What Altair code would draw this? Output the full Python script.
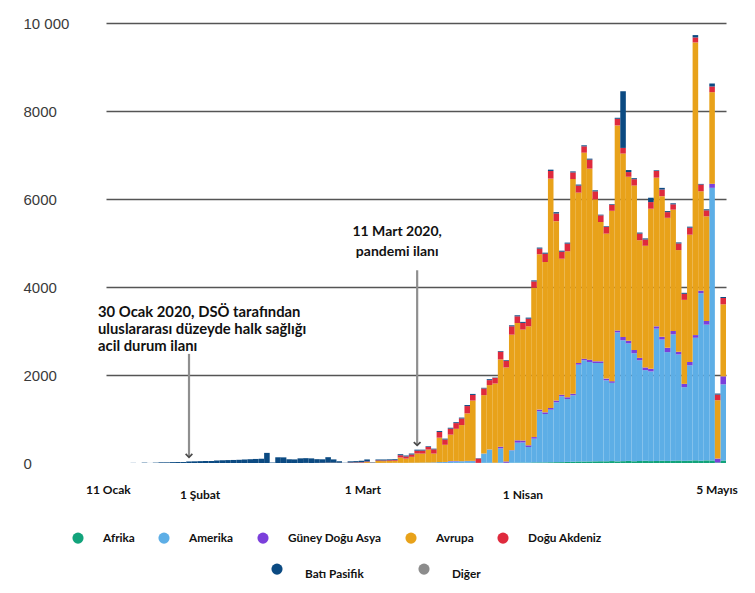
import altair as alt
import pandas as pd

# ---------------- data (daily deaths by WHO region, 15 Jan - 5 May 2020) -------------
regions = ["Afrika", "Amerika", "Güney Doğu Asya", "Avrupa", "Doğu Akdeniz", "Batı Pasifik", "Diğer"]
colors = ["#12a37b", "#5daee6", "#7b3fdb", "#e8a21a", "#df2a3d", "#0b4a82", "#8c8c8c"]

first_day = "2020-01-15"
last_day = "2020-05-05"

afrika = [
    0, 0, 0, 0, 0, 0, 0, 0, 0, 0, 0, 0, 0, 0, 0, 0, 0, 0, 0, 0,
    0, 0, 0, 0, 0, 0, 0, 0, 0, 0, 0, 0, 0, 0, 0, 0, 0, 0, 0, 0,
    0, 0, 0, 0, 0, 0, 0, 0, 0, 0, 0, 0, 0, 0, 0, 0, 0, 0, 0, 0,
    0, 1, 1, 2, 2, 3, 3, 0, 4, 5,
    3, 6, 5, 5, 7, 9, 8, 13, 14, 14,
    17, 19, 20, 25, 28, 35, 34, 36, 38, 40,
    39, 44, 37, 42, 48, 40, 46, 51, 44, 48,
    53, 47, 50, 57, 49, 55, 61, 52, 60, 58,
    12, 58,
]
amerika = [
    0, 0, 0, 0, 0, 0, 0, 0, 0, 0, 0, 0, 0, 0, 0, 0, 0, 0, 0, 0,
    0, 0, 0, 0, 0, 0, 0, 0, 0, 0, 0, 0, 0, 0, 0, 0, 0, 0, 0, 0,
    0, 0, 0, 0, 0, 0, 1, 1, 2, 2,
    3, 3, 4, 3, 3, 5, 6, 8, 10, 12,
    20, 20, 35, 35, 38, 40, 40, 3, 210, 300,
    0, 326, 0, 283, 455, 458, 356, 540, 1160, 1100,
    1195, 1360, 1495, 1430, 1510, 2200, 2300, 2260, 2235, 2233,
    1840, 1778, 2930, 2748, 2670, 2455, 2290, 2060, 2038, 3005,
    2753, 2473, 2875, 2410, 1675, 2165, 2785, 3806, 3084, 6196,
    0, 1730,
]
guney_dogu_asya = [
    0, 0, 0, 0, 0, 0, 0, 0, 0, 0, 0, 0, 0, 0, 0, 0, 0, 0, 0, 0,
    0, 0, 0, 0, 0, 0, 0, 0, 0, 0, 0, 0, 0, 0, 0, 0, 0, 0, 0, 0,
    0, 0, 0, 0, 0, 0, 0, 0, 0, 0,
    0, 0, 0, 0, 0, 0, 0, 0, 0, 2,
    1, 3, 9, 10, 2, 5, 6, 0, 2, 3,
    4, 38, 30, 5, 53, 45, 38, 36, 40, 37,
    38, 41, 37, 39, 36, 40, 38, 53, 38, 37,
    39, 38, 45, 76, 61, 76, 53, 61, 60, 53,
    61, 98, 75, 61, 75, 76, 61, 60, 83, 91,
    89, 182,
]
avrupa = [
    0, 0, 0, 0, 0, 0, 0, 0, 0, 0, 0, 0, 0, 0, 0, 0, 0, 0, 0, 0,
    0, 0, 0, 0, 0, 0, 0, 0, 0, 0, 0, 0, 0, 0, 0, 0, 0, 0, 0, 0,
    2, 3, 2, 0, 2, 4, 5, 20, 4, 43,
    40, 44, 45, 121, 97, 135, 210, 205, 295, 200,
    555, 390, 600, 730, 820, 1080, 1370, 0, 1326, 1463,
    1800, 1985, 2137, 2624, 2667, 2521, 2705, 3394, 3531, 3417,
    5213, 4076, 3091, 3318, 4879, 3871, 4682, 4341, 3682, 3167,
    3296, 3872, 4660, 4167, 3727, 3735, 2674, 2765, 3637, 3379,
    3197, 2955, 2758, 2311, 1909, 2894, 6651, 2258, 2380, 2083,
    1326, 1636,
]
dogu_akdeniz = [
    0, 0, 0, 0, 0, 0, 0, 0, 0, 0, 0, 0, 0, 0, 0, 0, 0, 0, 0, 0,
    0, 0, 0, 0, 0, 0, 0, 0, 0, 0,
    0, 0, 0, 0, 0, 0, 2, 0, 2, 4,
    5, 4, 4, 0, 8, 9, 12, 15, 3, 15,
    15, 16, 17, 53, 50, 53, 65, 70, 60, 97,
    130, 120, 136, 130, 150, 166, 128, 98, 152, 113,
    128, 175, 152, 190, 152, 151, 173, 144, 128, 189,
    174, 174, 159, 174, 151, 159, 143, 204, 181, 151,
    151, 136, 151, 128, 106, 144, 151, 144, 151, 152,
    151, 129, 121, 151, 137, 159, 114, 152, 136, 129,
    128, 144,
]
bati_pasifik = [
    0, 0, 0, 0, 0, 3, 0, 8, 1, 8,
    15, 15, 20, 22, 22, 35, 38, 42, 45, 45,
    57, 62, 66, 69, 73, 80, 86, 92, 97, 230,
    10, 130, 128, 85, 82, 106, 108, 105, 85, 80,
    125, 75, 34, 5, 28, 30, 31, 45, 8, 20,
    22, 20, 20, 23, 20, 22, 22, 20, 15, 15,
    22, 20, 20, 20, 20, 23, 23, 8, 15, 21,
    8, 15, 15, 22, 23, 23, 24, 23, 23, 23,
    30, 31, 23, 23, 23, 23, 23, 23, 23, 16,
    15, 15, 23, 1288, 46, 23, 23, 23, 99, 15,
    38, 23, 23, 23, 23, 22, 53, 15, 23, 68,
    23, 23,
]
diger = [
    0, 0, 0, 0, 0, 0, 0, 0, 0, 0, 0, 0, 0, 0, 0, 0, 0, 0, 0, 0,
    0, 0, 0, 0, 0, 0, 0, 0, 0, 0, 0, 0, 0, 0, 0, 2, 0, 0, 0, 0,
    1, 0, 0, 0, 0, 1, 0, 0, 0, 0, 0, 0, 0, 0, 0, 0, 0, 0, 0, 0,
    0, 0, 0, 0, 0, 0, 0, 0, 0, 0, 0, 0, 0, 0, 0, 0, 0, 0, 0, 0,
    0, 0, 0, 0, 0, 0, 0, 0, 0, 0, 0, 0, 0, 0, 0, 0, 0, 0, 0, 0,
    0, 0, 0, 0, 0, 0, 0, 0, 0, 0, 0, 0,
]

# y axis tick values
y_ticks = [0, 2000, 4000, 6000, 8000, 10000]

# x axis labels (text and where they sit on the time axis)
x_label_text = ["11 Ocak", "1 Şubat", "1 Mart", "1 Nisan", "5 Mayıs"]
x_label_date = ["2020-01-16T00:00:00", "2020-02-01T12:00:00", "2020-03-01T18:00:00",
                "2020-03-30T12:00:00", "2020-05-04T09:00:00"]
x_label_row = [0, 1, 0, 1, 0]

# annotations
ann_date = ["2020-01-30T12:00:00", "2020-03-11T12:00:00"]
ann_top = [2480, 4380]
ann_tip = [130, 400]
ann_text = ["30 Ocak 2020, DSÖ tarafından\nuluslararası düzeyde halk sağlığı\nacil durum ilanı",
            "11 Mart 2020,\npandemi ilanı"]
ann_text_y = [3590, 5400]

# ---------------- tables ----------------
dates = pd.date_range(first_day, last_day, freq="D")
series = [afrika, amerika, guney_dogu_asya, avrupa, dogu_akdeniz, bati_pasifik, diger]
rows = []
for k, (name, vals) in enumerate(zip(regions, series)):
    for d, v in zip(dates, vals):
        rows.append({"start": d, "end": d + pd.Timedelta(days=1),
                     "region": name, "order": k, "value": v})
df = pd.DataFrame(rows)

ann_df = pd.DataFrame({"date": pd.to_datetime(ann_date), "top": ann_top, "tip": ann_tip,
                       "text": ann_text, "ty": ann_text_y})
xlab_df = pd.DataFrame({"date": pd.to_datetime(x_label_date), "text": x_label_text,
                        "row": x_label_row})

# ---------------- scales / axes ----------------
x_scale = alt.Scale(domain=[alt.DateTime(year=2020, month=1, date=15, hours=14),
                            alt.DateTime(year=2020, month=5, date=6)])
y_scale = alt.Scale(domain=[0, 10000], nice=False)
y_axis = alt.Axis(values=y_ticks, title=None, ticks=False, domain=False, grid=True,
                  gridColor="#555555", gridWidth=1.6,
                  gridOpacity={"condition": {"test": "datum.value === 0", "value": 0}, "value": 1},
                  labelExpr="datum.value == 10000 ? '10 000' : format(datum.value, 'd')",
                  labelAlign="left", labelPadding=83, labelFont="Liberation Sans",
                  labelFontSize=15, labelColor="#3a3a3a")
color_scale = alt.Scale(domain=regions, range=colors)

legend_a = alt.Legend(title=None, values=regions[:5], orient="none", legendX=-34, legendY=509,
                      direction="horizontal", symbolType="circle", symbolSize=125,
                      symbolStrokeWidth=0, labelFont="Lato", labelFontWeight="bold",
                      labelFontSize=11.8, labelColor="#111111", labelOffset=19,
                      columnPadding=23)
legend_b = alt.Legend(title=None, values=regions[5:], orient="none", legendX=165, legendY=540,
                      direction="horizontal", symbolType="circle", symbolSize=125,
                      symbolStrokeWidth=0, labelFont="Lato", labelFontWeight="bold",
                      labelFontSize=11.8, labelColor="#111111", labelOffset=22,
                      columnPadding=54, labelBaseline="top")

base = alt.Chart(df)

bars = base.transform_stack(
    stack="value", groupby=["start"], as_=["y0", "y1"],
    sort=[alt.SortField("order", order="ascending")]
).mark_bar(clip=True).encode(
    x=alt.X("start:T", scale=x_scale, axis=None),
    x2="end:T",
    y=alt.Y("y0:Q", scale=y_scale, axis=y_axis),
    y2="y1:Q",
    color=alt.Color("region:N", scale=color_scale, legend=legend_a),
)

legend_layer = base.transform_filter("false").mark_circle(opacity=1).encode(
    x=alt.X("start:T", scale=x_scale, axis=None),
    y=alt.Y("value:Q", scale=y_scale, axis=y_axis),
    color=alt.Color("region:N", scale=color_scale, legend=legend_b),
)

ann = alt.Chart(ann_df)
arrows = ann.mark_rule(color="#8f8f8f", strokeWidth=2.2).encode(
    x=alt.X("date:T", scale=x_scale, axis=None),
    y=alt.Y("top:Q", scale=y_scale, axis=y_axis),
    y2="tip:Q",
)
heads = ann.mark_point(shape="M-1,-1L0,0L1,-1", filled=False, size=45, strokeWidth=1.7,
                       color="#4a4a4a", opacity=1).encode(
    x=alt.X("date:T", scale=x_scale, axis=None),
    y=alt.Y("tip:Q", scale=y_scale, axis=y_axis),
)
text1 = ann.transform_filter("datum.top < 3000").mark_text(
    align="left", baseline="top", dx=-91, lineBreak="\n", lineHeight=17,
    font="Lato", fontWeight="bold", fontSize=14.8, color="#111111").encode(
    x=alt.X("date:T", scale=x_scale, axis=None),
    y=alt.Y("ty:Q", scale=y_scale, axis=y_axis),
    text="text:N",
)
text2 = ann.transform_filter("datum.top >= 3000").mark_text(
    align="center", baseline="top", dx=-20, lineBreak="\n", lineHeight=20,
    font="Lato", fontWeight="bold", fontSize=14, color="#111111").encode(
    x=alt.X("date:T", scale=x_scale, axis=None),
    y=alt.Y("ty:Q", scale=y_scale, axis=y_axis),
    text="text:N",
)

xl = alt.Chart(xlab_df)
xlab_a = xl.transform_filter("datum.row == 0").mark_text(
    font="Lato", fontWeight="bold", fontSize=12, color="#111111", baseline="middle").encode(
    x=alt.X("date:T", scale=x_scale, axis=None), y=alt.value(467), text="text:N")
xlab_b = xl.transform_filter("datum.row == 1").mark_text(
    font="Lato", fontWeight="bold", fontSize=12, color="#111111", baseline="middle").encode(
    x=alt.X("date:T", scale=x_scale, axis=None), y=alt.value(472), text="text:N")

chart = alt.layer(
    bars, legend_layer, arrows, heads, text1, text2, xlab_a, xlab_b
).resolve_scale(color="independent").properties(
    width=620, height=440,
    padding={"left": 106, "top": 23, "right": 29, "bottom": 130},
    autosize=alt.AutoSizeParams(type="none"),
).configure_view(strokeWidth=0)

chart.save("out.html", embed_options={"renderer": "svg", "actions": False})
